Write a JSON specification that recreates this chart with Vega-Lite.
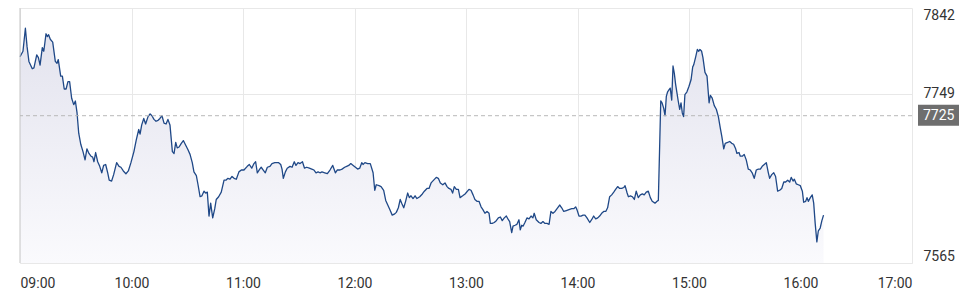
{
  "$schema": "https://vega.github.io/schema/vega-lite/v6.json",
  "autosize": {"type": "none"},
  "width": 892,
  "height": 255,
  "padding": {"left": 20, "top": 8, "right": 55, "bottom": 34},
  "background": "#ffffff",
  "config": {"view": {"stroke": null}, "font": "Roboto"},
  "datasets": {
    "series": [
      {"m":0,"v":7789},{"m":1.6,"v":7795},{"m":2.9,"v":7820},{"m":3.8,"v":7800},{"m":4.8,"v":7784},{"m":6.6,"v":7776},{"m":7.5,"v":7777},{"m":9.0,"v":7791},{"m":9.9,"v":7788},{"m":10.8,"v":7780},
      {"m":12.0,"v":7799},{"m":12.8,"v":7795},{"m":14.0,"v":7814},{"m":14.7,"v":7811},{"m":15.4,"v":7813},{"m":16.3,"v":7808},{"m":17.6,"v":7805},{"m":19.0,"v":7784},{"m":19.9,"v":7782},{"m":20.6,"v":7786},
      {"m":21.9,"v":7768},{"m":22.8,"v":7768},{"m":23.8,"v":7754},{"m":24.8,"v":7754},{"m":25.8,"v":7762},{"m":26.7,"v":7762},{"m":27.8,"v":7744},{"m":28.9,"v":7737},{"m":29.8,"v":7741},{"m":30.7,"v":7728},
      {"m":31.6,"v":7706},{"m":32.7,"v":7694},{"m":33.9,"v":7686},{"m":35.0,"v":7677},{"m":36.0,"v":7689},{"m":37.1,"v":7684},{"m":38.2,"v":7681},{"m":39.1,"v":7680},{"m":39.8,"v":7675},{"m":40.7,"v":7685},
      {"m":41.8,"v":7675},{"m":42.9,"v":7670},{"m":44.0,"v":7663},{"m":45.0,"v":7671},{"m":46.1,"v":7672},{"m":47.2,"v":7663},{"m":48.0,"v":7655},{"m":49.3,"v":7654},{"m":50.4,"v":7661},{"m":52.0,"v":7674},
      {"m":53.3,"v":7670},{"m":54.3,"v":7669},{"m":55.6,"v":7665},{"m":57.0,"v":7662},{"m":58.3,"v":7665},{"m":59.7,"v":7674},{"m":61.3,"v":7686},{"m":62.6,"v":7699},{"m":63.9,"v":7710},{"m":64.6,"v":7705},
      {"m":65.5,"v":7715},{"m":66.6,"v":7722},{"m":67.6,"v":7716},{"m":68.9,"v":7724},{"m":70.0,"v":7727},{"m":71.0,"v":7725},{"m":72.1,"v":7721},{"m":73.2,"v":7719},{"m":74.3,"v":7720},{"m":75.3,"v":7722},
      {"m":76.4,"v":7725},{"m":77.5,"v":7717},{"m":78.6,"v":7716},{"m":79.6,"v":7721},{"m":80.7,"v":7715},{"m":82.0,"v":7686},{"m":82.9,"v":7684},{"m":83.8,"v":7696},{"m":84.6,"v":7690},{"m":85.6,"v":7691},
      {"m":86.8,"v":7695},{"m":87.9,"v":7698},{"m":88.9,"v":7694},{"m":90.4,"v":7688},{"m":91.5,"v":7683},{"m":92.7,"v":7674},{"m":93.6,"v":7664},{"m":94.9,"v":7660},{"m":95.8,"v":7650},{"m":96.9,"v":7637},
      {"m":97.9,"v":7638},{"m":99.0,"v":7643},{"m":99.9,"v":7641},{"m":100.8,"v":7642},{"m":101.7,"v":7616},{"m":102.6,"v":7630},{"m":103.7,"v":7614},{"m":104.8,"v":7624},{"m":105.6,"v":7634},{"m":106.9,"v":7637},
      {"m":108.3,"v":7642},{"m":109.8,"v":7655},{"m":110.8,"v":7655},{"m":111.9,"v":7657},{"m":113.0,"v":7656},{"m":114.1,"v":7659},{"m":115.2,"v":7657},{"m":116.4,"v":7656},{"m":117.8,"v":7664},{"m":119.1,"v":7666},
      {"m":120.5,"v":7666},{"m":122.3,"v":7670},{"m":123.4,"v":7672},{"m":124.7,"v":7668},{"m":125.9,"v":7673},{"m":126.8,"v":7675},{"m":127.7,"v":7663},{"m":129.0,"v":7667},{"m":129.8,"v":7669},{"m":130.9,"v":7666},
      {"m":132.0,"v":7663},{"m":133.1,"v":7669},{"m":134.5,"v":7670},{"m":135.6,"v":7673},{"m":137.1,"v":7674},{"m":138.1,"v":7674},{"m":139.2,"v":7674},{"m":140.3,"v":7672},{"m":141.0,"v":7667},{"m":141.7,"v":7657},
      {"m":142.8,"v":7664},{"m":143.8,"v":7668},{"m":145.3,"v":7670},{"m":146.4,"v":7669},{"m":147.6,"v":7675},{"m":148.5,"v":7671},{"m":149.6,"v":7674},{"m":150.7,"v":7673},{"m":152.0,"v":7675},{"m":153.1,"v":7668},
      {"m":154.3,"v":7669},{"m":155.7,"v":7668},{"m":157.0,"v":7667},{"m":158.2,"v":7666},{"m":159.3,"v":7663},{"m":160.4,"v":7664},{"m":161.4,"v":7663},{"m":162.5,"v":7664},{"m":164.0,"v":7663},{"m":165.4,"v":7662},
      {"m":166.8,"v":7666},{"m":168.3,"v":7671},{"m":169.7,"v":7663},{"m":170.7,"v":7666},{"m":172.2,"v":7666},{"m":173.3,"v":7667},{"m":174.7,"v":7669},{"m":175.8,"v":7670},{"m":176.9,"v":7671},{"m":178.0,"v":7673},
      {"m":179.3,"v":7671},{"m":181.7,"v":7667},{"m":182.8,"v":7668},{"m":183.9,"v":7674},{"m":184.6,"v":7672},{"m":185.6,"v":7674},{"m":187.1,"v":7673},{"m":188.5,"v":7673},{"m":190.0,"v":7663},{"m":190.9,"v":7644},
      {"m":191.7,"v":7650},{"m":193.2,"v":7649},{"m":194.3,"v":7648},{"m":195.7,"v":7644},{"m":196.8,"v":7633},{"m":197.9,"v":7628},{"m":199.0,"v":7623},{"m":200.3,"v":7617},{"m":201.4,"v":7618},{"m":202.5,"v":7620},
      {"m":203.6,"v":7625},{"m":204.6,"v":7634},{"m":205.4,"v":7630},{"m":206.5,"v":7625},{"m":207.5,"v":7632},{"m":208.6,"v":7641},{"m":209.5,"v":7636},{"m":210.4,"v":7638},{"m":211.5,"v":7635},{"m":212.6,"v":7638},
      {"m":213.6,"v":7635},{"m":215.1,"v":7637},{"m":216.5,"v":7640},{"m":217.6,"v":7643},{"m":219.0,"v":7646},{"m":220.1,"v":7646},{"m":221.2,"v":7652},{"m":222.6,"v":7655},{"m":224.0,"v":7658},{"m":225.1,"v":7657},
      {"m":226.2,"v":7652},{"m":227.5,"v":7650},{"m":228.7,"v":7652},{"m":229.8,"v":7648},{"m":230.8,"v":7646},{"m":231.9,"v":7645},{"m":232.8,"v":7641},{"m":233.7,"v":7648},{"m":234.8,"v":7645},{"m":235.9,"v":7645},
      {"m":236.8,"v":7636},{"m":238.2,"v":7638},{"m":239.5,"v":7640},{"m":241.6,"v":7645},{"m":242.7,"v":7644},{"m":243.8,"v":7639},{"m":244.8,"v":7634},{"m":245.9,"v":7632},{"m":247.0,"v":7632},{"m":248.1,"v":7626},
      {"m":249.1,"v":7623},{"m":250.2,"v":7619},{"m":251.3,"v":7621},{"m":252.4,"v":7619},{"m":253.1,"v":7608},{"m":254.1,"v":7608},{"m":255.2,"v":7609},{"m":256.3,"v":7611},{"m":257.4,"v":7614},{"m":258.5,"v":7615},
      {"m":259.5,"v":7611},{"m":260.6,"v":7614},{"m":261.7,"v":7616},{"m":262.8,"v":7612},{"m":263.5,"v":7610},{"m":264.6,"v":7598},{"m":265.3,"v":7605},{"m":266.4,"v":7606},{"m":267.4,"v":7607},{"m":268.5,"v":7612},
      {"m":269.2,"v":7601},{"m":270.0,"v":7606},{"m":270.7,"v":7605},{"m":271.7,"v":7609},{"m":272.8,"v":7614},{"m":273.9,"v":7613},{"m":275.0,"v":7616},{"m":276.0,"v":7614},{"m":276.7,"v":7619},{"m":277.8,"v":7612},
      {"m":279.3,"v":7609},{"m":280.3,"v":7608},{"m":281.4,"v":7610},{"m":282.5,"v":7608},{"m":283.6,"v":7608},{"m":284.7,"v":7607},{"m":285.7,"v":7621},{"m":286.8,"v":7619},{"m":287.9,"v":7621},{"m":289.0,"v":7624},
      {"m":290.4,"v":7628},{"m":291.5,"v":7625},{"m":292.6,"v":7621},{"m":294.0,"v":7622},{"m":295.4,"v":7623},{"m":296.9,"v":7624},{"m":298.0,"v":7624},{"m":299.0,"v":7626},{"m":299.7,"v":7623},{"m":300.8,"v":7616},
      {"m":301.9,"v":7616},{"m":303.0,"v":7617},{"m":304.0,"v":7617},{"m":305.1,"v":7614},{"m":306.6,"v":7609},{"m":307.6,"v":7612},{"m":308.7,"v":7616},{"m":309.8,"v":7613},{"m":310.9,"v":7614},{"m":311.9,"v":7616},
      {"m":313.0,"v":7619},{"m":314.1,"v":7621},{"m":315.2,"v":7621},{"m":316.2,"v":7625},{"m":317.3,"v":7637},{"m":318.4,"v":7639},{"m":319.5,"v":7642},{"m":320.5,"v":7645},{"m":321.6,"v":7648},{"m":322.7,"v":7646},
      {"m":323.8,"v":7646},{"m":324.9,"v":7647},{"m":325.6,"v":7649},{"m":326.7,"v":7641},{"m":327.4,"v":7637},{"m":328.5,"v":7638},{"m":329.5,"v":7637},{"m":330.6,"v":7634},{"m":331.6,"v":7643},{"m":332.7,"v":7636},
      {"m":333.8,"v":7639},{"m":334.9,"v":7640},{"m":335.9,"v":7639},{"m":337.0,"v":7642},{"m":338.1,"v":7643},{"m":339.2,"v":7636},{"m":340.2,"v":7632},{"m":341.7,"v":7630},{"m":342.8,"v":7632},{"m":343.5,"v":7633},
      {"m":344.8,"v":7741},{"m":345.5,"v":7739},{"m":346.4,"v":7733},{"m":347.1,"v":7725},{"m":347.8,"v":7746},{"m":348.5,"v":7751},{"m":349.2,"v":7753},{"m":349.9,"v":7755},{"m":350.7,"v":7742},{"m":351.4,"v":7779},
      {"m":352.1,"v":7771},{"m":352.8,"v":7759},{"m":353.5,"v":7750},{"m":354.2,"v":7741},{"m":355.0,"v":7732},{"m":355.7,"v":7739},{"m":356.4,"v":7728},{"m":357.1,"v":7724},{"m":357.8,"v":7748},{"m":358.9,"v":7751},
      {"m":360.0,"v":7757},{"m":361.1,"v":7764},{"m":362.0,"v":7778},{"m":362.5,"v":7780},{"m":363.6,"v":7789},{"m":364.5,"v":7797},{"m":365.2,"v":7795},{"m":365.9,"v":7797},{"m":366.8,"v":7795},{"m":367.5,"v":7788},
      {"m":368.6,"v":7772},{"m":369.7,"v":7768},{"m":370.8,"v":7739},{"m":371.5,"v":7747},{"m":372.5,"v":7744},{"m":373.6,"v":7736},{"m":374.7,"v":7732},{"m":375.8,"v":7724},{"m":376.8,"v":7712},{"m":377.7,"v":7702},
      {"m":378.7,"v":7689},{"m":379.5,"v":7695},{"m":380.8,"v":7696},{"m":381.9,"v":7697},{"m":383.0,"v":7695},{"m":384.0,"v":7694},{"m":385.1,"v":7689},{"m":385.8,"v":7684},{"m":386.9,"v":7685},{"m":387.6,"v":7681},
      {"m":388.7,"v":7681},{"m":389.7,"v":7683},{"m":390.8,"v":7677},{"m":391.9,"v":7667},{"m":393.0,"v":7666},{"m":394.0,"v":7663},{"m":395.1,"v":7657},{"m":396.2,"v":7666},{"m":397.3,"v":7667},{"m":398.4,"v":7667},
      {"m":399.4,"v":7670},{"m":400.5,"v":7672},{"m":401.6,"v":7674},{"m":402.7,"v":7663},{"m":403.4,"v":7657},{"m":404.5,"v":7661},{"m":405.6,"v":7663},{"m":406.6,"v":7659},{"m":407.7,"v":7643},{"m":408.8,"v":7644},
      {"m":409.9,"v":7646},{"m":411.0,"v":7653},{"m":412.0,"v":7653},{"m":413.1,"v":7655},{"m":414.2,"v":7653},{"m":415.0,"v":7658},{"m":416.0,"v":7654},{"m":416.7,"v":7656},{"m":417.7,"v":7651},{"m":418.8,"v":7650},
      {"m":419.9,"v":7649},{"m":421.0,"v":7643},{"m":421.7,"v":7631},{"m":422.8,"v":7632},{"m":423.5,"v":7636},{"m":424.2,"v":7632},{"m":425.3,"v":7636},{"m":426.3,"v":7639},{"m":427.1,"v":7630},{"m":427.9,"v":7608},
      {"m":428.8,"v":7588},{"m":429.6,"v":7600},{"m":430.6,"v":7603},{"m":431.5,"v":7611},{"m":432.4,"v":7617}
    ],
    "reference": [{"ref": 7725}]
  },
  "layer": [
    {
      "data": {"name": "series"},
      "mark": {
        "type": "area",
        "color": {"gradient": "linear", "x1": 1, "y1": 1, "x2": 1, "y2": 0,
          "stops": [{"offset": 0, "color": "#fafafd"}, {"offset": 1, "color": "#e3e3ee"}]}
      },
      "encoding": {
        "x": {
          "field": "m", "type": "quantitative", "title": null,
          "scale": {"domain": [0, 480], "nice": false, "zero": false},
          "axis": {
            "title": null, "values": [0, 60, 120, 180, 240, 300, 360, 420, 480],
            "labelExpr": "(datum.value / 60 + 9 < 10 ? '0' : '') + (datum.value / 60 + 9) + ':00'",
            "grid": true, "gridColor": "#e8e8e8", "gridWidth": 1,
            "domain": true, "domainColor": "#e8e8e8", "ticks": false,
            "labelFlush": true, "labelFlushOffset": 0, "labelPadding": 13,
            "labelFont": "Roboto", "labelFontSize": 14, "labelColor": "#333333"
          }
        },
        "y": {
          "field": "v", "type": "quantitative", "title": null,
          "scale": {"domain": [7565, 7842], "nice": false, "zero": false},
          "axis": {
            "title": null, "orient": "right", "values": [7565, 7749, 7842], "format": "d",
            "grid": true, "gridColor": "#e8e8e8", "gridWidth": 1,
            "domain": false, "ticks": false,
            "labelFlush": true, "labelFlushOffset": 0, "labelPadding": 11,
            "labelFont": "Roboto", "labelFontSize": 14, "labelColor": "#333333"
          }
        },
        "y2": {"datum": 7565}
      }
    },
    {
      "data": {"name": "series"},
      "mark": {"type": "line", "color": "#1f4887", "strokeWidth": 1.3, "strokeJoin": "round"},
      "encoding": {
        "x": {"field": "m", "type": "quantitative", "title": null},
        "y": {"field": "v", "type": "quantitative", "title": null}
      }
    },
    {
      "data": {"name": "reference"},
      "mark": {"type": "rule", "color": "#c4c4c4", "strokeWidth": 1},
      "encoding": {"x": {"datum": 0, "type": "quantitative"}}
    },
    {
      "data": {"name": "reference"},
      "mark": {"type": "rule", "color": "#b8b8b8", "strokeWidth": 1, "strokeDash": [4, 3]},
      "encoding": {"y": {"field": "ref", "type": "quantitative", "title": null}}
    },
    {
      "data": {"name": "reference"},
      "mark": {"type": "rect", "color": "#6e6e6e", "xOffset": 6, "x2Offset": 47},
      "encoding": {
        "x": {"datum": 480, "type": "quantitative"},
        "x2": {"datum": 480},
        "y": {"datum": 7737, "type": "quantitative"},
        "y2": {"datum": 7714}
      }
    },
    {
      "data": {"name": "reference"},
      "mark": {"type": "text", "color": "#ffffff", "font": "Roboto", "fontSize": 14, "align": "left", "baseline": "middle", "dx": 11},
      "encoding": {
        "x": {"datum": 480, "type": "quantitative"},
        "y": {"field": "ref", "type": "quantitative", "title": null},
        "text": {"field": "ref", "type": "quantitative", "format": "d"}
      }
    }
  ]
}
